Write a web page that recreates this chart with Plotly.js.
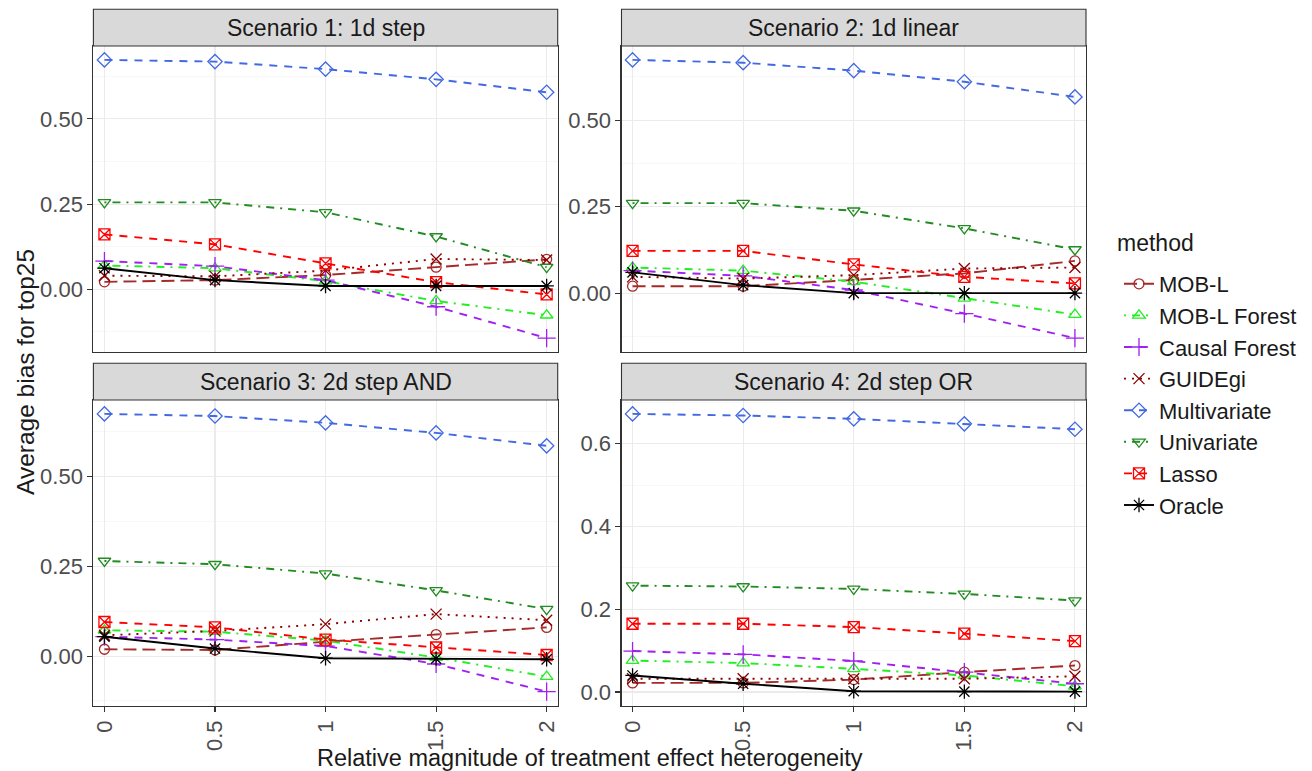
<!DOCTYPE html>
<html>
<head>
<meta charset="utf-8">
<script src="https://cdn.plot.ly/plotly-3.0.1.min.js"></script>
<style>html,body{margin:0;padding:0;background:#fff;}#chart{width:1312px;height:771px;}</style>
</head>
<body>
<div id="chart"></div>
<script>
// ---- data ----
const xValues = [0, 0.5, 1, 1.5, 2];
const xTickText = ["0", "0.5", "1", "1.5", "2"];
const methods = ["MOB-L", "MOB-L Forest", "Causal Forest", "GUIDEgi", "Multivariate", "Univariate", "Lasso", "Oracle"];
const scenarios = ["Scenario 1: 1d step", "Scenario 2: 1d linear", "Scenario 3: 2d step AND", "Scenario 4: 2d step OR"];

const s1_MOBL        = [0.022, 0.027, 0.042, 0.065, 0.088];
const s1_MOBLForest  = [0.070, 0.062, 0.024, -0.034, -0.076];
const s1_CausalForest= [0.083, 0.068, 0.027, -0.051, -0.143];
const s1_GUIDEgi     = [0.040, 0.038, 0.055, 0.089, 0.086];
const s1_Multivariate= [0.673, 0.668, 0.646, 0.616, 0.578];
const s1_Univariate  = [0.255, 0.255, 0.226, 0.155, 0.065];
const s1_Lasso       = [0.161, 0.132, 0.076, 0.021, -0.015];
const s1_Oracle      = [0.062, 0.027, 0.010, 0.010, 0.010];

const s2_MOBL        = [0.020, 0.020, 0.038, 0.057, 0.093];
const s2_MOBLForest  = [0.074, 0.065, 0.033, -0.015, -0.062];
const s2_CausalForest= [0.065, 0.050, 0.009, -0.059, -0.130];
const s2_GUIDEgi     = [0.047, 0.042, 0.052, 0.071, 0.074];
const s2_Multivariate= [0.674, 0.666, 0.643, 0.611, 0.567];
const s2_Univariate  = [0.260, 0.260, 0.238, 0.187, 0.126];
const s2_Lasso       = [0.122, 0.122, 0.083, 0.047, 0.028];
const s2_Oracle      = [0.060, 0.023, 0.000, 0.000, 0.000];

const s3_MOBL        = [0.019, 0.017, 0.040, 0.060, 0.080];
const s3_MOBLForest  = [0.072, 0.068, 0.043, -0.004, -0.057];
const s3_CausalForest= [0.054, 0.046, 0.028, -0.022, -0.099];
const s3_GUIDEgi     = [0.058, 0.070, 0.089, 0.117, 0.100];
const s3_Multivariate= [0.675, 0.669, 0.650, 0.622, 0.586];
const s3_Univariate  = [0.265, 0.256, 0.230, 0.183, 0.131];
const s3_Lasso       = [0.095, 0.080, 0.046, 0.024, 0.003];
const s3_Oracle      = [0.054, 0.021, -0.006, -0.007, -0.009];

const s4_MOBL        = [0.022, 0.022, 0.030, 0.048, 0.064];
const s4_MOBLForest  = [0.076, 0.070, 0.056, 0.040, 0.014];
const s4_CausalForest= [0.099, 0.091, 0.075, 0.048, 0.020];
const s4_GUIDEgi     = [0.032, 0.032, 0.032, 0.032, 0.038];
const s4_Multivariate= [0.672, 0.668, 0.660, 0.648, 0.635];
const s4_Univariate  = [0.257, 0.255, 0.249, 0.237, 0.221];
const s4_Lasso       = [0.165, 0.165, 0.157, 0.141, 0.123];
const s4_Oracle      = [0.040, 0.020, 0.002, 0.001, 0.001];

const panelData = [
  [s1_MOBL, s1_MOBLForest, s1_CausalForest, s1_GUIDEgi, s1_Multivariate, s1_Univariate, s1_Lasso, s1_Oracle],
  [s2_MOBL, s2_MOBLForest, s2_CausalForest, s2_GUIDEgi, s2_Multivariate, s2_Univariate, s2_Lasso, s2_Oracle],
  [s3_MOBL, s3_MOBLForest, s3_CausalForest, s3_GUIDEgi, s3_Multivariate, s3_Univariate, s3_Lasso, s3_Oracle],
  [s4_MOBL, s4_MOBLForest, s4_CausalForest, s4_GUIDEgi, s4_Multivariate, s4_Univariate, s4_Lasso, s4_Oracle]
];

// ---- styles ----
const colors  = ["#A52A2A", "#22EE22", "#A020F0", "#8B0000", "#4169E1", "#228B22", "#FF0000", "#000000"];
const dashes  = ["13px,6px", "2px,6px,8px,6px", "8px,7px", "2px,6px", "8px,7px", "2px,6px,8px,6px", "8px,7px", "solid"];
const symbols = ["circle-open", "triangle-up-open", "cross-thin-open", "x-thin-open", "diamond-open", "triangle-down-open", "square-x-open", "asterisk-open"];
const msizes  = [10, 11, 13, 11, 11, 11, 11, 12];

const W = 1312, H = 771;
const FONT = "Liberation Sans, Arial, sans-serif";
// panel pixel boxes
const colX = [[93.4, 557.7], [621.5, 1086]];
const rowY = [[46, 352], [400, 705.5]];
const stripH = 36.7;

const traces = [];
const layout = {
  width: W, height: H, autosize: false,
  margin: {l: 0, r: 0, t: 0, b: 0},
  paper_bgcolor: "#ffffff", plot_bgcolor: "#ffffff",
  font: {family: FONT, color: "#1a1a1a"},
  showlegend: true,
  legend: {
    x: 1119 / W, y: 1 - 263 / H, xanchor: "left", yanchor: "top",
    font: {family: FONT, size: 22, color: "#1a1a1a"},
    traceorder: "normal", itemwidth: 30, bgcolor: "rgba(0,0,0,0)", tracegroupgap: 0
  },
  shapes: [], annotations: []
};

for (let p = 0; p < 4; p++) {
  const col = p % 2, row = Math.floor(p / 2);
  const sfx = p === 0 ? "" : String(p + 1);
  const xa = "x" + sfx, ya = "y" + sfx;
  const vals = panelData[p].flat();
  const lo = Math.min(...vals), hi = Math.max(...vals);
  const pad = (hi - lo) * 0.05;
  const isP4 = p === 3;
  layout["xaxis" + sfx] = {
    domain: [colX[col][0] / W, colX[col][1] / W],
    anchor: ya, range: [-0.05, 2.05],
    tickmode: "array", tickvals: xValues, ticktext: xTickText,
    showticklabels: row === 1, ticks: row === 1 ? "outside" : "",
    ticklen: 5, tickwidth: 1.1, tickcolor: "#333333", tickangle: -90,
    tickfont: {family: FONT, size: 22, color: "#4d4d4d"},
    showgrid: true, gridcolor: "#ebebeb", gridwidth: 1.1, zeroline: false,
    showline: true, mirror: true, linecolor: "#333333", linewidth: 1.1
  };
  layout["yaxis" + sfx] = {
    domain: [1 - rowY[row][1] / H, 1 - rowY[row][0] / H],
    anchor: xa, range: [lo - pad, hi + pad],
    tickmode: "linear", tick0: 0, dtick: isP4 ? 0.2 : 0.25,
    tickformat: isP4 ? ".1f" : ".2f",
    ticks: "outside", ticklen: 5, tickwidth: 1.1, tickcolor: "#333333",
    tickfont: {family: FONT, size: 22, color: "#4d4d4d"},
    showgrid: true, gridcolor: "#ebebeb", gridwidth: 1.1, zeroline: false,
    minor: {dtick: isP4 ? 0.1 : 0.125, showgrid: true, gridcolor: "#f2f2f2", gridwidth: 0.6, ticks: ""},
    showline: true, mirror: true, linecolor: "#333333", linewidth: 1.1
  };
  // strip
  const sy0 = rowY[row][0] - stripH, sy1 = rowY[row][0];
  layout.shapes.push({
    type: "rect", xref: "paper", yref: "paper", layer: "above",
    x0: colX[col][0] / W, x1: colX[col][1] / W, y0: 1 - sy1 / H, y1: 1 - sy0 / H,
    fillcolor: "#d9d9d9", line: {color: "#333333", width: 1.1}
  });
  layout.annotations.push({
    xref: "paper", yref: "paper", showarrow: false,
    x: (colX[col][0] + colX[col][1]) / 2 / W, y: 1 - (sy0 + sy1) / 2 / H,
    xanchor: "center", yanchor: "middle", text: scenarios[p],
    font: {family: FONT, size: 23, color: "#1a1a1a"}
  });
  for (let m = 0; m < methods.length; m++) {
    traces.push({
      type: "scatter", mode: "lines+markers",
      x: xValues, y: panelData[p][m], xaxis: xa, yaxis: ya,
      name: methods[m], legendgroup: methods[m], showlegend: p === 0,
      line: {color: colors[m], width: 1.9, dash: dashes[m]},
      marker: {symbol: symbols[m], size: msizes[m], color: colors[m], line: {color: colors[m], width: 1.3}},
      hoverinfo: "x+y+name"
    });
  }
}

layout.annotations.push({
  xref: "paper", yref: "paper", showarrow: false,
  x: 1115 / W, y: 1 - 243 / H, xanchor: "left", yanchor: "middle",
  text: "method", font: {family: FONT, size: 23, color: "#1a1a1a"}
});
layout.annotations.push({
  xref: "paper", yref: "paper", showarrow: false,
  x: 589.7 / W, y: 1 - 758 / H, xanchor: "center", yanchor: "middle",
  text: "Relative magnitude of treatment effect heterogeneity",
  font: {family: FONT, size: 23.5, color: "#1a1a1a"}
});
layout.annotations.push({
  xref: "paper", yref: "paper", showarrow: false, textangle: -90,
  x: 25 / W, y: 1 - 372 / H, xanchor: "center", yanchor: "middle",
  text: "Average bias for top25",
  font: {family: FONT, size: 24.5, color: "#1a1a1a"}
});

Plotly.newPlot("chart", traces, layout, {staticPlot: true, displayModeBar: false});
</script>
</body>
</html>
